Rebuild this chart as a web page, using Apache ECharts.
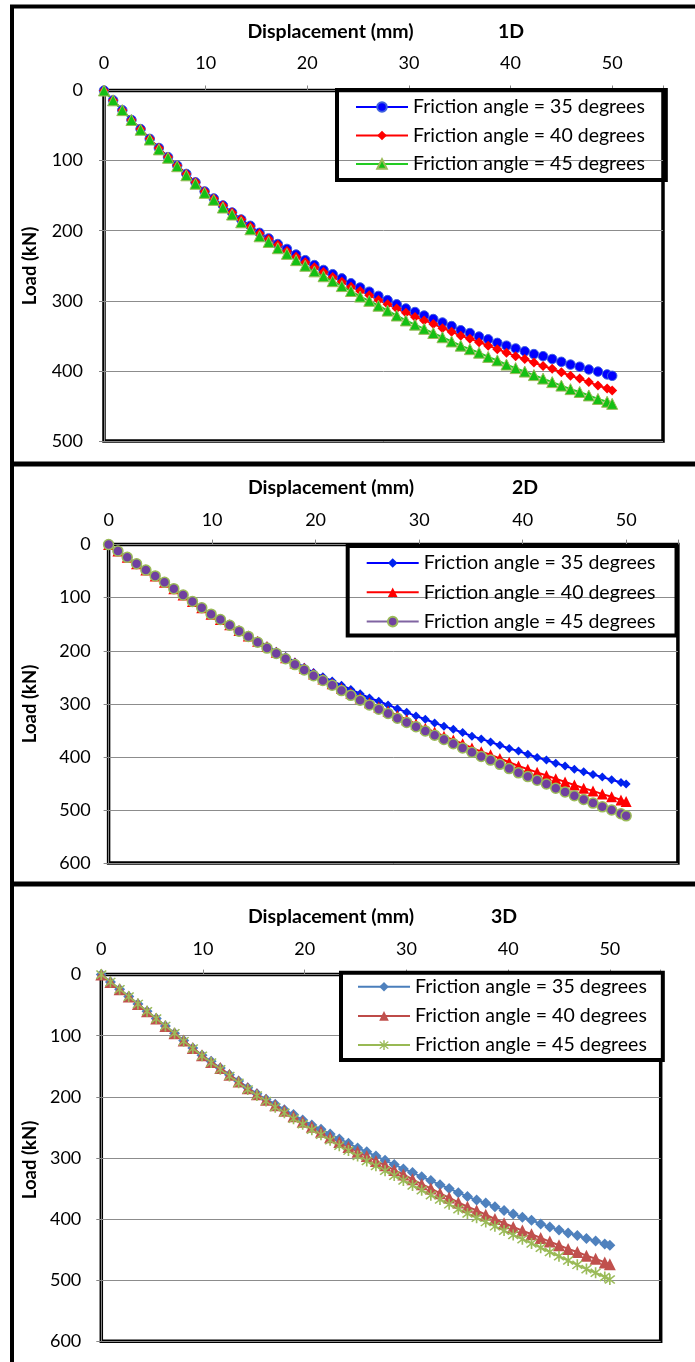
<!DOCTYPE html>
<html>
<head>
<meta charset="utf-8">
<script src="https://cdn.jsdelivr.net/npm/echarts@6/dist/echarts.min.js"></script>
<style>
  html, body { margin: 0; padding: 0; background: #fff; }
  #wrap { position: relative; width: 695px; height: 1362px; }
  .chart { position: absolute; left: 0; top: 0; width: 695px; height: 1362px; }
</style>
</head>
<body>
<div id="wrap">
  <div id="c1" class="chart"></div>
  <div id="c2" class="chart"></div>
  <div id="c3" class="chart"></div>
</div>
<script>
// displacement (mm) of each load step, shared by all runs
const displacement = [0, 0.9, 1.8, 2.7, 3.6, 4.5, 5.4, 6.3, 7.2, 8.1, 9, 9.9, 10.8, 11.7, 12.6, 13.5,
  14.4, 15.3, 16.2, 17.1, 18, 18.9, 19.8, 20.7, 21.6, 22.5, 23.4, 24.3, 25.2, 26.1, 27, 27.9, 28.8,
  29.7, 30.6, 31.5, 32.4, 33.3, 34.2, 35.1, 36, 36.9, 37.8, 38.7, 39.6, 40.5, 41.4, 42.3, 43.2, 44.1,
  45, 45.9, 46.8, 47.7, 48.6, 49.5, 50];

const seriesNames = ['Friction angle = 35 degrees', 'Friction angle = 40 degrees', 'Friction angle = 45 degrees'];

// 1D load (kN)
const load1D_35 = [0, 14, 28, 42, 55, 69, 82, 95, 107, 119, 131, 144, 154, 164, 174, 184, 193,
  203, 211, 219, 226, 234, 242, 249, 256, 262, 268, 275, 281, 287, 293, 299, 305, 311,
  316, 321, 326, 331, 336, 342, 346, 351, 355, 360, 364, 368, 372, 376, 379, 383,
  387, 391, 394, 398, 401, 405, 407];
const load1D_40 = [0, 14, 28, 42, 55, 69, 82, 95, 107, 119, 131, 144, 154, 164, 174, 184, 194,
  204, 212, 220, 229, 237, 245, 252, 259, 266, 273, 280, 286, 292, 299, 305, 311, 317,
  323, 328, 333, 339, 344, 350, 354, 359, 364, 369, 374, 379, 383, 388, 393, 397,
  402, 407, 411, 416, 421, 425, 428];
const load1D_45 = [0, 14, 28, 42, 56, 70, 84, 96, 108, 121, 133, 146, 156, 167, 177, 188, 198,
  208, 216, 225, 233, 242, 250, 258, 265, 272, 279, 286, 294, 300, 307, 314, 321, 328,
  334, 340, 346, 352, 358, 364, 369, 374, 380, 385, 391, 396, 401, 406, 411, 416,
  421, 426, 430, 435, 440, 444, 447];

// 2D load (kN)
const load2D_35 = [0, 12, 24, 36, 48, 59, 71, 83, 95, 107, 119, 131, 141, 151, 161, 171, 181,
  191, 201, 211, 221, 231, 241, 249, 257, 265, 273, 281, 289, 295, 302, 309, 316, 323,
  329, 336, 342, 348, 354, 361, 366, 372, 378, 384, 389, 395, 401, 406, 412, 417,
  423, 428, 433, 438, 443, 448, 451];
const load2D_40 = [0, 12, 24, 36, 48, 59, 71, 83, 95, 107, 119, 131, 141, 151, 162, 172, 182,
  192, 203, 213, 223, 233, 244, 253, 262, 271, 280, 289, 298, 306, 314, 322, 330, 338,
  346, 353, 361, 368, 375, 383, 390, 396, 403, 410, 417, 423, 429, 435, 441, 447,
  453, 459, 464, 470, 475, 481, 484];
const load2D_45 = [0, 12, 24, 36, 48, 59, 71, 83, 95, 107, 119, 131, 141, 152, 163, 173, 184,
  195, 205, 215, 226, 236, 247, 256, 265, 275, 284, 293, 302, 310, 318, 327, 335, 343,
  351, 359, 367, 375, 383, 391, 399, 406, 414, 422, 430, 437, 444, 451, 459, 466,
  473, 480, 487, 494, 500, 507, 511];

// 3D load (kN)
const load3D_35 = [0, 12, 24, 36, 48, 60, 72, 84, 96, 108, 120, 132, 142, 153, 164, 174, 185,
  195, 204, 212, 221, 229, 238, 246, 253, 261, 269, 276, 284, 290, 297, 304, 311, 318,
  324, 331, 337, 344, 350, 357, 363, 369, 374, 380, 386, 392, 397, 402, 408, 413,
  418, 423, 427, 432, 436, 441, 443];
const load3D_40 = [0, 12, 24, 36, 48, 60, 72, 84, 96, 108, 120, 132, 143, 153, 164, 175, 186,
  196, 205, 214, 223, 232, 241, 249, 257, 266, 274, 282, 290, 297, 305, 312, 320, 327,
  335, 343, 350, 358, 365, 373, 380, 386, 393, 400, 407, 413, 419, 425, 431, 437,
  443, 449, 454, 460, 465, 471, 474];
const load3D_45 = [0, 12, 24, 36, 48, 60, 72, 84, 96, 109, 121, 133, 144, 155, 166, 177, 188,
  198, 207, 217, 226, 236, 245, 254, 262, 271, 280, 288, 297, 305, 313, 321, 329, 337,
  345, 353, 361, 368, 376, 384, 391, 398, 405, 412, 419, 426, 433, 440, 447, 454,
  461, 468, 475, 482, 488, 495, 499];

const FONT = 'Lato';
const AXIS_GREY = '#868686';
// excel style "x with star" marker
const STAR = 'path://M9 2L11 2L11 18L9 18Z M3.4 4.8L4.8 3.4L16.6 15.2L15.2 16.6Z M15.2 3.4L16.6 4.8L4.8 16.6L3.4 15.2Z';

const pairs = (xs, ys) => xs.map((x, i) => [x, ys[i]]);

const makeSeries = (name, loads, s) => ({
  name,
  type: 'line',
  data: pairs(displacement, loads),
  symbol: s.symbol,
  symbolSize: s.size,
  clip: false,
  lineStyle: { color: s.line, width: 2 },
  itemStyle: { color: s.fill, borderColor: s.border || s.fill, borderWidth: s.borderWidth || 0 },
  emphasis: { disabled: true }
});

const makeOption = (p) => ({
  animation: false,
  grid: {
    left: p.grid[0], top: p.grid[1], width: p.grid[2], height: p.grid[3],
    show: true, borderColor: '#000', borderWidth: 3.5, containLabel: false
  },
  xAxis: {
    type: 'value', position: 'top', min: 0, max: 55, interval: 10,
    axisLine: { show: true, lineStyle: { color: AXIS_GREY, width: 1 } },
    axisTick: { show: true, length: 5, lineStyle: { color: AXIS_GREY } },
    axisLabel: {
      margin: p.xMargin, fontFamily: FONT, fontSize: 18, color: '#000',
      formatter: v => (v % 10 === 0 ? String(v) : '')
    },
    splitLine: { show: false }
  },
  yAxis: {
    type: 'value', inverse: true, min: 0, max: p.yMax, interval: 100, offset: 2,
    axisLine: { show: true, lineStyle: { color: AXIS_GREY, width: 1 } },
    axisTick: { show: true, length: 5, lineStyle: { color: AXIS_GREY } },
    axisLabel: { margin: p.yMargin, fontFamily: FONT, fontSize: 18, color: '#000' },
    splitLine: { show: true, lineStyle: { color: '#8c8c8c', width: 1 } }
  },
  legend: {
    orient: 'vertical',
    left: p.legend.left, top: p.legend.top,
    padding: p.legend.padding,
    itemGap: p.legend.gap,
    itemWidth: 52, itemHeight: 12,
    borderColor: '#000', borderWidth: 4, borderRadius: 0,
    backgroundColor: p.legend.fill,
    selectedMode: false,
    textStyle: { fontFamily: FONT, fontSize: 19.5, color: '#000', lineHeight: 20 },
    data: seriesNames
  },
  graphic: [
    {
      type: 'text', x: p.title[0], y: p.title[1],
      style: { text: 'Displacement (mm)', fontFamily: FONT, fontWeight: 'bold', fontSize: 19.5,
        fill: '#000', align: 'center', verticalAlign: 'middle' }
    },
    {
      type: 'text', x: p.tag[0], y: p.tag[1],
      style: { text: p.tagText, fontFamily: FONT, fontWeight: 'bold', fontSize: 19.5,
        fill: '#000', align: 'center', verticalAlign: 'middle' }
    },
    {
      type: 'text', x: 30, y: p.yName, rotation: Math.PI / 2,
      style: { text: 'Load (kN)', fontFamily: FONT, fontWeight: 'bold', fontSize: 18.5,
        fill: '#000', align: 'center', verticalAlign: 'middle' }
    }
  ].concat(p.frame || []),
  series: p.series
});

// outer frames of the three panels
const frame = [
  { type: 'line', shape: { x1: 10, y1: 6.5, x2: 695, y2: 6.5 }, style: { stroke: '#000', lineWidth: 4 } },
  { type: 'line', shape: { x1: 12, y1: 5, x2: 12, y2: 1362 }, style: { stroke: '#000', lineWidth: 4 } },
  { type: 'line', shape: { x1: 10, y1: 464, x2: 695, y2: 464 }, style: { stroke: '#000', lineWidth: 5 } },
  { type: 'line', shape: { x1: 10, y1: 884, x2: 695, y2: 884 }, style: { stroke: '#000', lineWidth: 5 } }
];

const chart1 = echarts.init(document.getElementById('c1'));
chart1.setOption(makeOption({
  grid: [104, 90.5, 559, 350.5], yMax: 500, xMargin: 18, yMargin: 19,
  legend: { left: 337, top: 90, padding: [7, 21, 6, 18], gap: 8.5, fill: 'transparent' },
  title: [330.5, 32], tag: [511, 32], tagText: '1D', yName: 266,
  frame,
  series: [
    makeSeries(seriesNames[0], load1D_35, { symbol: 'circle', size: 9.5, fill: '#0000FF', line: '#0000FF', border: '#3d5fe0', borderWidth: 1 }),
    makeSeries(seriesNames[1], load1D_40, { symbol: 'diamond', size: 10, fill: '#FF0000', line: '#FF0000' }),
    makeSeries(seriesNames[2], load1D_45, { symbol: 'triangle', size: 11, fill: '#14C014', line: '#22CC22', border: '#9BBB59', borderWidth: 1 })
  ]
}));

const chart2 = echarts.init(document.getElementById('c2'));
chart2.setOption(makeOption({
  grid: [108.6, 544.6, 569.3, 318.5], yMax: 600, xMargin: 15, yMargin: 16,
  legend: { left: 347.7, top: 546, padding: [7, 21, 4, 18], gap: 9.3, fill: 'transparent' },
  title: [331, 488], tag: [525, 488], tagText: '2D', yName: 704,
  series: [
    makeSeries(seriesNames[0], load2D_35, { symbol: 'diamond', size: 9, fill: '#0022EE', line: '#0000FF' }),
    makeSeries(seriesNames[1], load2D_40, { symbol: 'triangle', size: 11, fill: '#FF0000', line: '#FF0000' }),
    makeSeries(seriesNames[2], load2D_45, { symbol: 'circle', size: 10, fill: '#7040A0', line: '#8064A2', border: '#9BBB59', borderWidth: 1.5 })
  ]
}));

const chart3 = echarts.init(document.getElementById('c3'));
chart3.setOption(makeOption({
  grid: [101.3, 974.6, 559.4, 366.6], yMax: 600, xMargin: 16, yMargin: 18,
  legend: { left: 341, top: 972.7, padding: [4, 16, 5, 16], gap: 9.2, fill: '#fff' },
  title: [331, 917], tag: [504, 917], tagText: '3D', yName: 1160,
  series: [
    makeSeries(seriesNames[0], load3D_35, { symbol: 'diamond', size: 11, fill: '#4F81BD', line: '#4A7EBB' }),
    makeSeries(seriesNames[1], load3D_40, { symbol: 'triangle', size: 12, fill: '#C0504D', line: '#BE4B48' }),
    makeSeries(seriesNames[2], load3D_45, { symbol: STAR, size: 11, fill: '#9BBB59', line: '#98B954' })
  ]
}));
</script>
</body>
</html>
